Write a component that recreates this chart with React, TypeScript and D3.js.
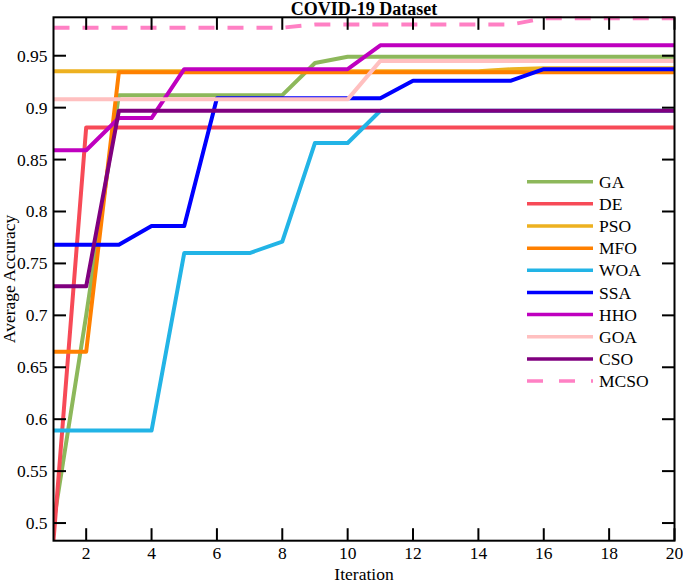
import React from "react";
import * as d3 from "d3";

const iterations = [1, 2, 3, 4, 5, 6, 7, 8, 9, 10, 11, 12, 13, 14, 15, 16, 17, 18, 19, 20];

const GA = [0.5, 0.7, 0.912, 0.912, 0.912, 0.912, 0.912, 0.912, 0.943, 0.949, 0.949, 0.949, 0.949, 0.949, 0.949, 0.949, 0.949, 0.949, 0.949, 0.949];
const DE = [0.483, 0.881, 0.881, 0.881, 0.881, 0.881, 0.881, 0.881, 0.881, 0.881, 0.881, 0.881, 0.881, 0.881, 0.881, 0.881, 0.881, 0.881, 0.881, 0.881];
const PSO = [0.935, 0.935, 0.935, 0.935, 0.935, 0.935, 0.935, 0.935, 0.935, 0.935, 0.935, 0.935, 0.935, 0.935, 0.937, 0.938, 0.938, 0.938, 0.938, 0.938];
const MFO = [0.665, 0.665, 0.934, 0.934, 0.934, 0.934, 0.934, 0.934, 0.934, 0.934, 0.934, 0.934, 0.934, 0.934, 0.934, 0.934, 0.934, 0.934, 0.934, 0.934];
const WOA = [0.589, 0.589, 0.589, 0.589, 0.76, 0.76, 0.76, 0.771, 0.866, 0.866, 0.897, 0.897, 0.897, 0.897, 0.897, 0.897, 0.897, 0.897, 0.897, 0.897];
const SSA = [0.768, 0.768, 0.768, 0.786, 0.786, 0.909, 0.909, 0.909, 0.909, 0.909, 0.909, 0.926, 0.926, 0.926, 0.926, 0.937, 0.937, 0.937, 0.937, 0.937];
const HHO = [0.859, 0.859, 0.89, 0.89, 0.937, 0.937, 0.937, 0.937, 0.937, 0.937, 0.96, 0.96, 0.96, 0.96, 0.96, 0.96, 0.96, 0.96, 0.96, 0.96];
const GOA = [0.908, 0.908, 0.908, 0.908, 0.908, 0.908, 0.908, 0.908, 0.908, 0.908, 0.945, 0.945, 0.945, 0.945, 0.945, 0.945, 0.945, 0.945, 0.945, 0.945];
const CSO = [0.728, 0.728, 0.897, 0.897, 0.897, 0.897, 0.897, 0.897, 0.897, 0.897, 0.897, 0.897, 0.897, 0.897, 0.897, 0.897, 0.897, 0.897, 0.897, 0.897];
const MCSO = [0.977, 0.977, 0.977, 0.977, 0.977, 0.977, 0.977, 0.977, 0.98, 0.98, 0.98, 0.98, 0.98, 0.98, 0.98, 0.986, 0.986, 0.986, 0.986, 0.986];

const seriesNames = ["GA", "DE", "PSO", "MFO", "WOA", "SSA", "HHO", "GOA", "CSO", "MCSO"];
const seriesValues = [GA, DE, PSO, MFO, WOA, SSA, HHO, GOA, CSO, MCSO];
const seriesColors = ["#8DB85B", "#F74A57", "#EDB120", "#FF8000", "#22B4E6", "#0000FF", "#BF00BF", "#FFC0C0", "#80007F", "#FF80C4"];
const seriesDashed = [false, false, false, false, false, false, false, false, false, true];

const yTicks = [0.5, 0.55, 0.6, 0.65, 0.7, 0.75, 0.8, 0.85, 0.9, 0.95];
const yTickLabels = ["0.5", "0.55", "0.6", "0.65", "0.7", "0.75", "0.8", "0.85", "0.9", "0.95"];
const xTicks = [2, 4, 6, 8, 10, 12, 14, 16, 18, 20];

const FONT = "'Liberation Serif', 'Times New Roman', Times, serif";

export default function App() {
  const W = 683;
  const H = 584;
  const left = 53.5;
  const right = 674.5;
  const top = 17.3;
  const bottom = 540.7;

  const x = d3.scaleLinear().domain([1, 20]).range([left, right]);
  const y = d3.scaleLinear().domain([0.483, 0.987]).range([bottom, top]);

  const line = d3
    .line<number>()
    .x((_, i) => x(iterations[i]))
    .y((d) => y(d));

  const tickLen = 12.5;
  const legX1 = 527;
  const legX2 = 593;
  const legY0 = 181.7;
  const legStep = 22.15;

  return (
    <svg
      width={W}
      height={H}
      style={{ position: "absolute", left: 0, top: 0, background: "#fff" }}
      fontFamily={FONT}
    >
      <defs>
        <clipPath id="plotClip">
          <rect x={left} y={top - 2} width={right - left} height={bottom - top + 2} />
        </clipPath>
      </defs>
      <rect x={0} y={0} width={W} height={H} fill="#fff" />

      {/* series */}
      <g clipPath="url(#plotClip)">
        {seriesValues.map((vals, k) => (
          <path
            key={seriesNames[k]}
            d={line(vals) || ""}
            fill="none"
            stroke={seriesColors[k]}
            strokeWidth={4}
            strokeLinejoin="round"
            strokeDasharray={seriesDashed[k] ? "16,13" : undefined}
          />
        ))}
      </g>

      {/* axes box */}
      <rect x={left} y={top} width={right - left} height={bottom - top} fill="none" stroke="#000" strokeWidth={2} />

      {/* y ticks */}
      {yTicks.map((t, i) => (
        <g key={"y" + t}>
          <line x1={left} x2={left + tickLen} y1={y(t)} y2={y(t)} stroke="#000" strokeWidth={2} />
          <line x1={right} x2={right - tickLen} y1={y(t)} y2={y(t)} stroke="#000" strokeWidth={2} />
          <text x={left - 6} y={y(t)} dy="0.34em" textAnchor="end" fontSize={17.5} fill="#000">
            {yTickLabels[i]}
          </text>
        </g>
      ))}

      {/* x ticks */}
      {xTicks.map((t) => (
        <g key={"x" + t}>
          <line x1={x(t)} x2={x(t)} y1={bottom} y2={bottom - tickLen} stroke="#000" strokeWidth={2} />
          <line x1={x(t)} x2={x(t)} y1={top} y2={top + tickLen} stroke="#000" strokeWidth={2} />
          <text x={x(t)} y={559} textAnchor="middle" fontSize={17.5} fill="#000">
            {t}
          </text>
        </g>
      ))}

      {/* axis labels */}
      <text x={(left + right) / 2} y={580} textAnchor="middle" fontSize={17.5} fill="#000">
        Iteration
      </text>
      <text
        transform={`translate(15,${(top + bottom) / 2}) rotate(-90)`}
        textAnchor="middle"
        fontSize={17.5}
        fill="#000"
      >
        Average Accuracy
      </text>

      {/* title */}
      <text x={(left + right) / 2} y={15} textAnchor="middle" fontSize={18} fontWeight="bold" fill="#000">
        COVID-19 Dataset
      </text>

      {/* legend */}
      {seriesNames.map((name, k) => {
        const ly = legY0 + k * legStep;
        return (
          <g key={"leg" + name}>
            <line
              x1={legX1}
              x2={legX2}
              y1={ly}
              y2={ly}
              stroke={seriesColors[k]}
              strokeWidth={3.5}
              strokeDasharray={seriesDashed[k] ? "16,16" : undefined}
            />
            <text x={legX2 + 6} y={ly} dy="0.35em" fontSize={17.5} fill="#000">
              {name}
            </text>
          </g>
        );
      })}
    </svg>
  );
}
